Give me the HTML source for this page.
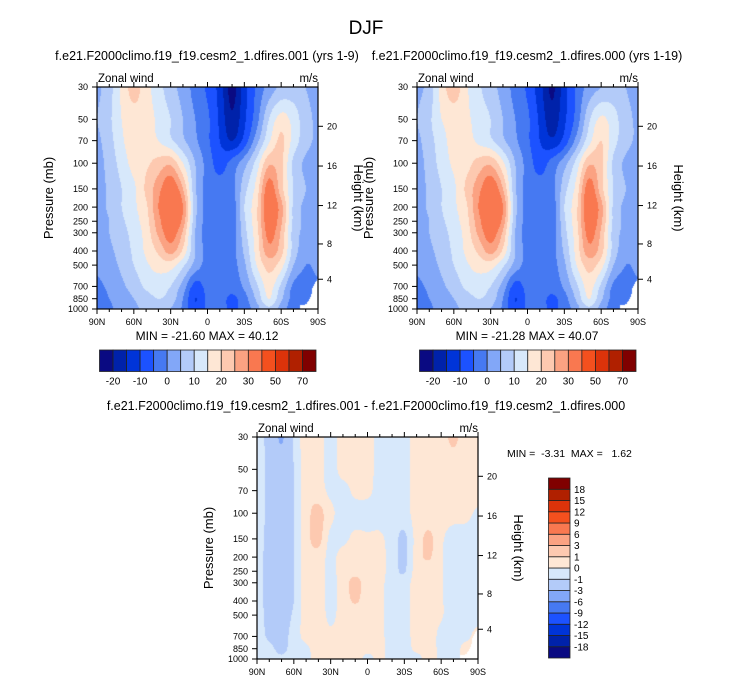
<!DOCTYPE html>
<html><head><meta charset="utf-8">
<style>
body{margin:0;background:#fff;}
#root{position:relative;width:732px;height:683px;overflow:hidden;background:#fff;font-family:"Liberation Sans",Arial,sans-serif;color:#000;}
.t{position:absolute;white-space:nowrap;}
canvas{position:absolute;}
</style></head>
<body>
<div id="root">
<div class="t" style="left:0;width:732px;top:18px;text-align:center;font-size:19px;">DJF</div>
<div class="t" style="left:7px;width:400px;top:49px;text-align:center;font-size:12.5px;">f.e21.F2000climo.f19_f19.cesm2_1.dfires.001 (yrs 1-9)</div>
<div class="t" style="left:327px;width:400px;top:49px;text-align:center;font-size:12.5px;">f.e21.F2000climo.f19_f19.cesm2_1.dfires.000 (yrs 1-19)</div>
<div class="t" style="left:66px;width:600px;top:399px;text-align:center;font-size:12.5px;">f.e21.F2000climo.f19_f19.cesm2_1.dfires.001 - f.e21.F2000climo.f19_f19.cesm2_1.dfires.000</div>
<div class="t" style="left:507px;top:448px;font-size:10.5px;">MIN = &nbsp;-3.31 &nbsp;MAX = &nbsp; 1.62</div>
<svg id="ov" width="732" height="683" style="position:absolute;left:0;top:0;"></svg>
</div>
<script>
// ---- data ----
const lats = [90,80,70,60,50,40,30,20,10,0,-10,-20,-30,-40,-50,-60,-70,-80,-90];
const levels = [30,50,70,100,150,200,250,300,400,500,700,850,1000];
const windA = [
[4,8,16,22,17,12,7,3,-2,-6,-12,-22,-12,-4,2,6,7,5,3],
[5,9,15,18,17,14,10,5,0,-4,-11,-19,-11,-2,10,17,13,7,4],
[4,8,14,18,17,15,11,6,1,-4,-10,-15,-8,3,14,21,13,7,4],
[3,7,12,17,19,22,24,15,5,-2,-7,-3,3,12,24,21,9,4,2],
[3,6,10,14,21,28,35,25,6,-2,-3,-2,8,17,33,22,10,5,3],
[3,6,10,14,19,30,38,30,7,-2,-3,-3,10,19,35,27,9,4,3],
[2,5,9,13,18,28,36,28,6,-2,-3,-3,9,19,34,26,9,4,3],
[2,5,8,12,17,26,33,24,5,-2,-3,-3,8,18,32,24,8,4,3],
[2,4,7,11,16,21,27,19,5,-2,-3,-2,6,17,28,22,8,2,1],
[1,3,6,10,14,17,17,11,3,-2,-3,-2,4,15,22,17,5,0,1],
[-1,1,4,7,11,12,10,3,-7,-3,-2,-3,1,9,17,9,-1,-2,-1],
[-2,0,3,5,8,10,8,0,-10,-4,-3,-6,-2,6,15,6,-2,-3,-3],
[-3,-1,2,4,6,7,5,-1,-9,-4,-3,-6,-3,3,9,3,-3,-3,-3]];
const windB = [
[4,7,17,23,16,11,7,3,-2,-6,-13,-21,-12,-4,2,5,7,5,3],
[5,9,15,17,16,13,10,5,0,-4,-11,-18,-11,-3,9,16,12,7,4],
[4,8,13,17,17,14,11,6,1,-4,-10,-14,-8,2,13,20,12,7,4],
[3,7,12,16,18,22,24,16,5,-2,-7,-3,3,12,24,21,9,4,2],
[3,6,10,14,21,28,35,25,6,-2,-3,-2,8,17,33,22,10,5,3],
[3,6,10,14,19,30,38,30,7,-2,-3,-3,10,19,35,27,9,4,3],
[2,5,9,13,18,28,36,28,6,-2,-3,-3,9,19,34,26,9,4,3],
[2,5,8,12,17,26,33,24,5,-2,-3,-3,8,18,32,24,8,4,3],
[2,4,7,11,16,21,27,19,5,-2,-3,-2,6,17,28,22,8,2,1],
[1,3,6,10,14,17,17,11,3,-2,-3,-2,4,15,22,17,5,0,1],
[-1,1,4,7,11,12,10,3,-7,-3,-2,-3,1,9,17,9,-1,-2,-1],
[-2,0,3,5,8,10,8,0,-10,-4,-3,-6,-2,6,15,6,-2,-3,-3],
[-3,-1,2,4,6,7,5,-1,-9,-4,-3,-6,-3,3,9,3,-3,-3,-3]];
const windDiff = [
[-0.5,-1.5,-3.2,-0.8,0.5,0.5,-0.5,0.5,0.5,0.5,-0.5,-0.5,-0.5,0.5,0.5,0.6,1.2,0.5,0.5],
[-0.5,-1.3,-2,-1,0.5,0.5,-0.5,0.5,0.5,0.5,-0.5,-0.5,-0.5,0.5,0.5,0.5,0.5,0.5,0.5],
[-0.5,-1.3,-1.8,-1,0.5,0.5,-0.3,-0.5,0.3,0.3,-0.5,-0.5,-0.5,0.5,0.5,0.5,0.5,0.5,0.5],
[-0.5,-1.3,-1.8,-1,0.6,1.3,0.3,-0.5,-0.5,-0.5,-0.5,-0.5,-0.5,0.5,0.5,0.5,0.4,0.3,-0.2],
[-0.5,-1.4,-1.8,-1,0.6,1.3,-0.3,-0.3,0.3,0.2,0.2,-0.5,-1.2,0.4,1.2,0.2,-0.5,-0.5,-0.5],
[-0.5,-1.5,-1.8,-1,0.5,0.6,-0.3,0.5,0.6,0.5,0.4,-0.5,-1.2,0.5,1.1,0.1,-0.5,-0.5,-0.5],
[-0.5,-1.5,-1.8,-1,0.5,0.5,-0.3,0.5,0.7,0.5,0.4,-0.5,-1.1,0.5,0.5,0.1,-0.5,-0.5,-0.5],
[-0.5,-1.5,-1.8,-1,0.5,0.5,-0.3,0.5,1.3,0.5,0.3,-0.5,-0.5,0.5,0.5,0.1,-0.5,-0.5,-0.5],
[-0.5,-1.5,-1.8,-1,0.5,0.5,-0.3,0.5,1.1,0.5,0.3,-0.5,-0.5,0.5,0.5,0.1,-0.5,-0.5,-0.5],
[-0.5,-1.4,-1.6,-0.8,0.5,0.5,-0.2,0.4,0.5,0.5,0.3,-0.5,-0.5,0.5,0.5,0.1,-0.5,-0.5,-0.5],
[-0.5,-1.2,-1.5,-0.5,0.3,0.5,0.2,0.5,0.5,0.5,0.3,-0.5,-0.5,0.5,0.5,-0.3,-0.5,-0.3,0.4],
[-0.5,-0.7,-1.3,-0.5,-0.2,0.5,0.5,0.5,0.5,0.3,0.3,-0.5,-0.5,0.3,0.5,-0.3,-0.5,0.4,0.4],
[-0.5,-0.5,-0.8,-0.5,-0.3,0.5,0.5,0.5,0.5,-0.3,0.3,-0.5,-0.5,-0.5,0.5,-0.3,-0.5,0.4,0.4]];
const boundsMain = [-20,-15,-10,-5,0,5,10,15,20,25,30,40,50,60,70];
const boundsDiff = [-18,-15,-12,-9,-6,-3,-1,0,1,3,6,9,12,15,18];
const mainLabels = ["-20","-10","0","10","20","30","50","70"];
const diffLabels = ["-18","-15","-12","-9","-6","-3","-1","0","1","3","6","9","12","15","18"];
const palette = ["#0a0a82","#0022aa","#0034d8","#1c52ff","#4679f2","#82a7f8","#b3cbf9","#d7e8fb","#fee7d5","#fdc9b0","#fba282","#f97850","#f4501e","#dc330a","#b02000","#800000"];
const pTicks = [30,50,70,100,150,200,250,300,400,500,700,850,1000];
const kmTicks = ["20","16","12","8","4"];
const kmFrac = [0.177,0.356,0.534,0.707,0.866];
const latLabels = ["90N","60N","30N","0","30S","60S","90S"];

// ---- helpers ----
const NS="http://www.w3.org/2000/svg";
const ov=document.getElementById('ov');
const root=document.getElementById('root');
const L30=Math.log(30), LR=Math.log(1000/30);
function yOfP(p,y0,h){return y0+h*(Math.log(p)-L30)/LR;}
function hex(c){return [parseInt(c.substr(1,2),16),parseInt(c.substr(3,2),16),parseInt(c.substr(5,2),16)];}
const palRGB=palette.map(hex);
function colorIdx(v,b){let i=0;while(i<b.length&&v>=b[i])i++;return i;}
function cr(p0,p1,p2,p3,t){return 0.5*((2*p1)+(-p0+p2)*t+(2*p0-5*p1+4*p2-p3)*t*t+(-p0+3*p1-3*p2+p3)*t*t*t);}
function sample(grid,fx,fy){
  const nx=lats.length,ny=levels.length;
  const xi=fx*(nx-1);let i=Math.min(Math.floor(xi),nx-2);const tx=xi-i;
  const p=Math.exp(L30+fy*LR);let k=0;while(k<ny-2&&p>levels[k+1])k++;
  let ty=(Math.log(p)-Math.log(levels[k]))/(Math.log(levels[k+1])-Math.log(levels[k]));
  ty=Math.max(0,Math.min(1,ty));
  const row=r=>{r=Math.max(0,Math.min(ny-1,r));const g=grid[r];const c=j=>g[Math.max(0,Math.min(nx-1,j))];
    return cr(c(i-1),c(i),c(i+1),c(i+2),tx);};
  return cr(row(k-1),row(k),row(k+1),row(k+2),ty);
}
const maskPts=[[1,0.862],[0.985,0.885],[0.974,0.907],[0.97,0.937],[0.959,0.96],[0.947,0.979],[0.917,0.984],[0.917,1.01],[1.01,1.01],[1.01,0.862]];
function inMask(fx,fy){
  let c=false;for(let i=0,j=maskPts.length-1;i<maskPts.length;j=i++){
    const xi=maskPts[i][0],yi=maskPts[i][1],xj=maskPts[j][0],yj=maskPts[j][1];
    if(((yi>fy)!=(yj>fy))&&(fx<(xj-xi)*(fy-yi)/(yj-yi)+xi))c=!c;}
  return c;
}
function el(tag,attrs,parent){const e=document.createElementNS(NS,tag);for(const k in attrs)e.setAttribute(k,attrs[k]);(parent||ov).appendChild(e);return e;}
function txt(s,x,y,size,anchor,extra){const e=el('text',Object.assign({x:x,y:y,'font-size':size,'text-anchor':anchor||'start','font-family':'Liberation Sans, Arial, sans-serif'},extra||{}));e.textContent=s;return e;}

function drawPanel(grid,bounds,x0,y0,w,h,name){
  const cv=document.createElement('canvas');
  
  
  cv.width=w;cv.height=h;cv.style.left=x0+'px';cv.style.top=y0+'px';
  root.insertBefore(cv,ov);
  const ctx=cv.getContext('2d');const img=ctx.createImageData(w,h);
  for(let py=0;py<h;py++)for(let px=0;px<w;px++){
    const fx=(px+0.5)/w,fy=(py+0.5)/h;const o=(py*w+px)*4;
    let c=[255,255,255];
    if(!inMask(fx,fy))c=palRGB[colorIdx(sample(grid,fx,fy),bounds)];
    img.data[o]=c[0];img.data[o+1]=c[1];img.data[o+2]=c[2];img.data[o+3]=255;}
  ctx.putImageData(img,0,0);
  const g=el('g',{});
  
  
  el('rect',{x:x0,y:y0,width:w,height:h,fill:'none',stroke:'#000','stroke-width':1.2},g);
  for(let d=0;d<=18;d++){
    const x=x0+w*d/18, major=d%3==0, len=major?5:3;
    el('line',{x1:x,x2:x,y1:y0+h,y2:y0+h+len,stroke:'#000','stroke-width':1},g);
    el('line',{x1:x,x2:x,y1:y0,y2:y0-len,stroke:'#000','stroke-width':1},g);
  }
  latLabels.forEach((s,i)=>{const t=txt(s,x0+w*i/6,y0+h+16,9,'middle',{});});
  pTicks.forEach(p=>{const y=yOfP(p,y0,h);
    el('line',{x1:x0-5,x2:x0,y1:y,y2:y,stroke:'#000','stroke-width':1},g);
    const t=txt(String(p),x0-9,y+3.2,9,'end',{});});
  kmTicks.forEach((s,i)=>{const y=y0+h*kmFrac[i];
    el('line',{x1:x0+w,x2:x0+w+5,y1:y,y2:y,stroke:'#000','stroke-width':1},g);
    const t=txt(s,x0+w+9,y+3.2,9,'start',{});});
  const a=txt('Pressure (mb)',0,0,13,'middle',{transform:'translate('+(x0-44)+','+(y0+h*0.5)+') rotate(-90)'});
  
  const b=txt('Height (km)',0,0,13,'middle',{transform:'translate('+(x0+w+36)+','+(y0+h*0.5)+') rotate(90)'});
  
  const c=txt('Zonal wind',x0+1,y0-5,11.5,'start',{});
  const d=txt('m/s',x0+w,y0-5,11.5,'end',{});
}
function hColorbar(x0,y0,w,h,name){
  const g=el('g',{});
  
  
  const bw=w/palette.length;
  palette.forEach((c,i)=>{const r=el('rect',{x:x0+i*bw,y:y0,width:bw,height:h,fill:c,stroke:'#222','stroke-width':0.8},g);
    });
  mainLabels.forEach((s,j)=>{const t=txt(s,x0+bw*(1+2*j),y0+h+13,10,'middle',{});});
}
function vColorbar(x0,y0,w,h,name){
  const g=el('g',{});
  
  
  const bh=h/palette.length;
  palette.forEach((c,i)=>{const r=el('rect',{x:x0,y:y0+h-(i+1)*bh,width:w,height:bh,fill:c,stroke:'#222','stroke-width':0.8},g);
    });
  diffLabels.forEach((s,j)=>{const t=txt(s,x0+w+4,y0+h-(j+1)*bh+3.5,10,'start',{});});
}
drawPanel(windA,boundsMain,97,87,221,222,'left-panel');
drawPanel(windB,boundsMain,417,87,221,222,'right-panel');
drawPanel(windDiff,boundsDiff,257,437,221,222,'diff-panel');
let m1=txt('MIN = -21.60  MAX =  40.12',207,340,12,'middle',{'xml:space':'preserve'});

let m2=txt('MIN = -21.28  MAX =  40.07',527,340,12,'middle',{'xml:space':'preserve'});

hColorbar(99.5,350,216.5,21.5,'left-colorbar');
hColorbar(419.5,350,216.5,21.5,'right-colorbar');
vColorbar(548.5,478,21.5,180,'diff-colorbar');
</script>
</body></html>
